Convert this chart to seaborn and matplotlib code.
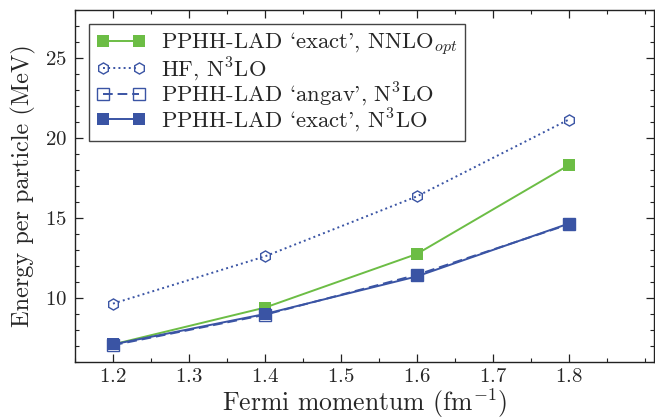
import numpy as np
import pandas as pd
import seaborn as sns
import matplotlib
matplotlib.use("Agg")
import matplotlib.pyplot as plt

# Fermi momenta (fm^-1)
kf = [1.2, 1.4, 1.6, 1.8]

# Energy per particle (MeV)
e_exact_nnlo = [7.1, 9.4, 12.75, 18.3]
e_hf_n3lo = [9.65, 12.6, 16.35, 21.15]
e_angav_n3lo = [7.05, 8.95, 11.45, 14.6]
e_exact_n3lo = [7.1, 9.0, 11.35, 14.65]

labels = [
    "PPHH-LAD `exact', NNLO$_{opt}$",
    "HF, N$^3$LO",
    "PPHH-LAD `angav', N$^3$LO",
    "PPHH-LAD `exact', N$^3$LO",
]

green = "#6cbd45"
blue = "#3a54a4"

sns.set_style("ticks")
plt.rcParams["font.family"] = ["cmr10"]
plt.rcParams["mathtext.fontset"] = "cm"
plt.rcParams["axes.formatter.use_mathtext"] = True
plt.rcParams["axes.unicode_minus"] = False

fig = plt.figure(figsize=(6.55, 4.19), dpi=100)
ax = fig.add_axes([0.1145, 0.136, 0.8835, 0.84])

styles = [
    dict(color=green, marker="s", markersize=8, linestyle="-", linewidth=1.4,
         markeredgewidth=0, markeredgecolor=green),
    dict(color=blue, marker="h", markersize=8, linestyle=":", linewidth=1.4,
         markerfacecolor="none", markeredgewidth=1.0, markeredgecolor=blue),
    dict(color=blue, marker="s", markersize=8, linestyle=(0, (5, 2.5)), linewidth=1.4,
         markerfacecolor="none", markeredgewidth=1.0, markeredgecolor=blue),
    dict(color=blue, marker="s", markersize=9, linestyle="-", linewidth=1.4,
         markeredgewidth=0, markeredgecolor=blue),
]

for ys, lab, st in zip([e_exact_nnlo, e_hf_n3lo, e_angav_n3lo, e_exact_n3lo], labels, styles):
    df = pd.DataFrame({"kf": kf, "E": ys})
    sns.lineplot(data=df, x="kf", y="E", ax=ax, label=lab, **st)

ax.set_xlim(1.15, 1.912)
ax.set_ylim(6, 28)
ax.set_xticks([1.2, 1.3, 1.4, 1.5, 1.6, 1.7, 1.8])
ax.set_yticks([10, 15, 20, 25])
ax.xaxis.set_minor_locator(matplotlib.ticker.MultipleLocator(0.05))
ax.yaxis.set_minor_locator(matplotlib.ticker.MultipleLocator(1))
ax.tick_params(which="both", direction="in", top=True, right=True, labelsize=15,
               color="#222222")
ax.tick_params(which="major", length=6, width=0.9, pad=6)
ax.tick_params(axis="x", which="major", pad=4.5)
ax.tick_params(which="minor", length=3, width=0.8)
for s in ax.spines.values():
    s.set_linewidth(1.0)
    s.set_color("#222222")

ax.set_xlabel("Fermi momentum (fm$^{-1}$)", fontsize=18.5, labelpad=0)
ax.set_ylabel("Energy per particle (MeV)", fontsize=17.5, labelpad=6)

leg = ax.legend(loc="upper left", fontsize=16.3, frameon=True, fancybox=False,
                edgecolor="#444444", framealpha=1, handlelength=2.2,
                numpoints=2, borderaxespad=0.6, labelspacing=-0.12,
                handletextpad=0.7, borderpad=0.32)
leg.get_frame().set_linewidth(1.0)

fig.savefig("out.png", dpi=100)
